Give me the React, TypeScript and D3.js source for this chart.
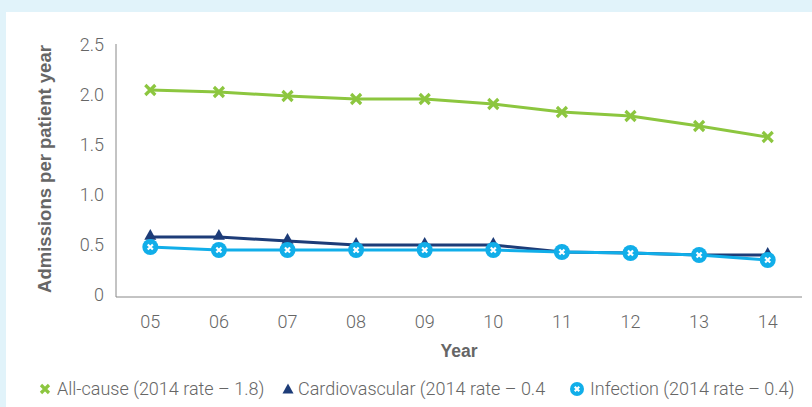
import React from 'react'
import * as d3 from 'd3'

const years = ['05', '06', '07', '08', '09', '10', '11', '12', '13', '14']
const allCause = [2.05, 2.03, 1.99, 1.96, 1.96, 1.91, 1.83, 1.79, 1.69, 1.58]
const cardiovascular = [0.58, 0.58, 0.54, 0.5, 0.5, 0.5, 0.43, 0.42, 0.4, 0.4]
const infection = [0.48, 0.45, 0.45, 0.45, 0.45, 0.45, 0.43, 0.42, 0.4, 0.35]
const yTicks = [0, 0.5, 1.0, 1.5, 2.0, 2.5]
const legendLabels = [
    'All-cause (2014 rate – 1.8)',
    'Cardiovascular (2014 rate – 0.4',
    'Infection (2014 rate – 0.4)',
]

const GREEN = '#8cc63f'
const NAVY = '#1d3c78'
const BLUE = '#11aee9'
const TEXT = '#666'

const width = 812, height = 407
const left = 116, right = 802, top = 45, bottom = 295

const App = () => {
    // scales
    const x = d3.scalePoint<string>().domain(years).range([left, right]).padding(0.5)
    const y = d3.scaleLinear().domain([0, 2.5]).range([bottom, top])

    const line = d3.line<number>()
        .x((d, i) => x(years[i]) as number)
        .y(d => y(d))

    const cross = (cx: number, cy: number, s: number, key: string) => (
        <path key={key} d={`M${cx - s},${cy - s}L${cx + s},${cy + s}M${cx - s},${cy + s}L${cx + s},${cy - s}`}
            stroke={GREEN} strokeWidth={3.2} fill="none" />
    )
    const tri = (cx: number, cy: number, s: number, key: string) => (
        <path key={key} d={`M${cx},${cy - s}L${cx + s},${cy + s * 0.8}L${cx - s},${cy + s * 0.8}Z`} fill={NAVY} />
    )
    const circ = (cx: number, cy: number, r: number, key: string) => (
        <g key={key}>
            <circle cx={cx} cy={cy} r={r} fill={BLUE} />
            <path d={`M${cx - r * 0.32},${cy - r * 0.32}L${cx + r * 0.32},${cy + r * 0.32}M${cx - r * 0.32},${cy + r * 0.32}L${cx + r * 0.32},${cy - r * 0.32}`}
                stroke="white" strokeWidth={2.2} />
        </g>
    )

    const font = 'Roboto, "Liberation Sans", sans-serif'
    const boldFont = '"Liberation Sans", Arial, sans-serif'

    return (
        <svg width={width} height={height} style={{ position: 'absolute', left: 0, top: 0 }}>
            <rect x={0} y={0} width={width} height={height} fill="#e1f3fa" />
            <rect x={6} y={12} width={width - 6} height={height - 12} fill="white" />

            {/* axes */}
            <line x1={left} x2={left} y1={top - 1} y2={bottom + 2} stroke="#888" strokeWidth={1} />
            <line x1={left} x2={right} y1={bottom + 2} y2={bottom + 2} stroke="#888" strokeWidth={1} />

            {yTicks.map(t => (
                <text key={t} x={104} y={y(t)} dy="0.35em" textAnchor="end" fontSize={18}
                    fontFamily={font} fontWeight={300} fill={TEXT}>
                    {t === 0 ? '0' : t.toFixed(1)}
                </text>
            ))}
            {years.map(yr => (
                <text key={yr} x={x(yr)} y={322} dy="0.35em" textAnchor="middle" fontSize={18}
                    fontFamily={font} fontWeight={300} fill={TEXT}>{yr}</text>
            ))}
            <text x={(left + right) / 2} y={351} dy="0.35em" textAnchor="middle" fontSize={17.5}
                fontFamily={boldFont} fontWeight={700} fill={TEXT}>Year</text>
            <text transform={`translate(45,${(top + bottom) / 2 - 1}) rotate(-90)`} dy="0.35em" textAnchor="middle"
                fontSize={18.5} fontFamily={boldFont} fontWeight={700} fill={TEXT}>Admissions per patient year</text>

            {/* lines */}
            <path d={line(allCause) || ''} fill="none" stroke={GREEN} strokeWidth={3} />
            <path d={line(cardiovascular) || ''} fill="none" stroke={NAVY} strokeWidth={3} />
            <path d={line(infection) || ''} fill="none" stroke={BLUE} strokeWidth={3} />

            {allCause.map((v, i) => cross(x(years[i]) as number, y(v), 5, 'a' + i))}
            {cardiovascular.map((v, i) => tri(x(years[i]) as number, y(v) - 2, 6, 'c' + i))}
            {infection.map((v, i) => circ(x(years[i]) as number, y(v), 8, 'i' + i))}

            {/* legend */}
            {cross(45, 389, 4, 'lg0')}
            <text x={57} y={389} dy="0.35em" fontSize={18} fontFamily={font} fontWeight={300} fill={TEXT}>{legendLabels[0]}</text>
            {tri(288, 389, 5.5, 'lg1')}
            <text x={298} y={389} dy="0.35em" fontSize={18} fontFamily={font} fontWeight={300} fill={TEXT}>{legendLabels[1]}</text>
            {circ(577, 389, 7, 'lg2')}
            <text x={590} y={389} dy="0.35em" fontSize={18} fontFamily={font} fontWeight={300} fill={TEXT}>{legendLabels[2]}</text>
        </svg>
    )
}

export default App
